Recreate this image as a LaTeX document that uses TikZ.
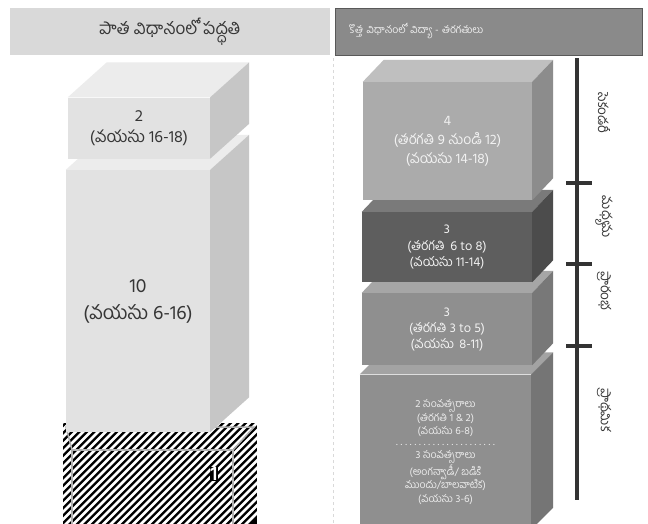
\documentclass[tikz,border=0pt]{standalone}
\usepackage{fontspec}
\setmainfont[Script=Telugu]{Hind Guntur}
\usetikzlibrary{calc}
\definecolor{lfront}{HTML}{E2E2E2}
\definecolor{ltop}{HTML}{ECECEC}
\definecolor{lside}{HTML}{C6C6C6}
\definecolor{ltext}{HTML}{363636}
\definecolor{hdrL}{HTML}{D9D9D9}
\definecolor{hdrR}{HTML}{8A8A8A}
\newcommand{\boxfaces}[5]{%
  \fill[#4] (#1.north west) -- ++(#2,-#3) -- ($(#1.north east)+(#2,-#3)$) -- (#1.north east) -- cycle;
  \fill[#5] (#1.north east) -- ++(#2,-#3) -- ($(#1.south east)+(#2,-#3)$) -- (#1.south east) -- cycle;}
\begin{document}
\begin{tikzpicture}[x=1pt,y=-1pt,
  frontbox/.style={inner sep=0pt, align=center, draw=none},
  leftbox/.style={frontbox, fill=lfront, text=ltext},
  rightbox/.style={frontbox, text=white!95!black},
  hdrbox/.style={inner sep=0pt, minimum height=47pt},
  stagelabel/.style={rotate=-90, text=ltext, font=\fontsize{13.5}{14}\selectfont},
  tick/.style={line width=3.5pt, draw=black!80}
]
\useasboundingbox (0,0) rectangle (648,523);
\fill[white] (0,0) rectangle (648,523);

% headers
\node[hdrbox, fill=hdrL, minimum width=320pt, text=ltext, font=\fontsize{17}{19}\selectfont] (hL) at (170,31.5) {పాత విధానంలో పద్ధతి};
\node[hdrbox, fill=hdrR, draw=black!65, line width=0.8pt, minimum width=307pt, text width=280pt, align=left, text=white!93!black, font=\fontsize{10.5}{12}\selectfont] (hR) at (489,31.5) {కొత్త విధానంలో విద్యా - తరగతులు};

% divider
\draw[black!15, dashed, line width=0.6pt] (333,58) coordinate (dv1) -- (333,523) coordinate (dv2);

% ---------- left column ----------
\fill[black] (63,423) rectangle (257,530);
\begin{scope}
  \clip (63,423) rectangle (257,530);
  \foreach \i in {0,...,48} {
    \draw[white, line width=2.6pt] (\i*7.5-120,530) -- ++(130,-130);
  }
\end{scope}
\draw[black!30, line width=1.5pt] (72,530) -- (72,450) -- (233,450) -- (233,530);
\draw[black!30, line width=1.5pt] (233,450) -- (254,427) -- (66,427) -- (72,450);
\node[text=white, fill=black, inner sep=0.6pt, font=\bfseries\fontsize{20}{20}\selectfont] (one) at (214,474) {1};

\node[leftbox, minimum width=144pt, minimum height=262pt, font=\fontsize{19.5}{27}\selectfont] (b10) at (138,301) {10\\(వయసు 6-16)};
\boxfaces{b10}{39}{35}{ltop}{lside}

\node[leftbox, minimum width=142pt, minimum height=61pt, font=\fontsize{16.5}{21}\selectfont] (b2) at (139,128) {2\\(వయసు 16-18)};
\boxfaces{b2}{39}{35}{ltop}{lside}

% ---------- right column ----------
\node[rightbox, fill=black!44, minimum width=171pt, minimum height=155pt, text=white!92!black, font=\fontsize{10.5}{13.8}\selectfont] (b1) at (445.5,452) {2 సంవత్సరాలు\\(తరగతి 1 \& 2)\\(వయసు 6-8)\\[-3pt]\makebox[105pt]{\dotfill}\\[-1pt]3 సంవత్సరాలు\\(అంగన్వాడీ/ బడికి\\ముందు/బాలవాటిక)\\(వయసు 3-6)};
\boxfaces{b1}{22}{22}{black!36}{black!54}

\node[rightbox, fill=black!44, minimum width=170pt, minimum height=72pt, font=\fontsize{13}{16}\selectfont] (b35) at (447,329) {3\\(తరగతి 3 to 5)\\(వయసు\, 8-11)};
\boxfaces{b35}{21}{22}{black!35}{black!53}

\node[rightbox, fill=black!63, minimum width=170pt, minimum height=70pt, font=\fontsize{13}{16.5}\selectfont] (b68) at (447,247) {3\\(తరగతి\, 6 to 8)\\(వయసు 11-14)};
\boxfaces{b68}{21}{22}{black!52}{black!70}

\node[rightbox, fill=black!33, minimum width=169pt, minimum height=118pt, font=\fontsize{14}{19}\selectfont] (b4) at (447.5,141) {4\\(తరగతి 9 నుండి 12)\\(వయసు 14-18)};
\boxfaces{b4}{21}{22}{black!25}{black!45}

% ---------- timeline ----------
\coordinate (tlA) at (577,58);
\coordinate (tlB) at (577,500);
\draw[tick] (tlA) -- (tlB);
\coordinate (k1a) at (566,183); \coordinate (k1b) at (592,183);
\coordinate (k2a) at (566,264); \coordinate (k2b) at (592,264);
\coordinate (k3a) at (566,346); \coordinate (k3b) at (592,346);
\draw[tick] (k1a) -- (k1b);
\draw[tick] (k2a) -- (k2b);
\draw[tick] (k3a) -- (k3b);
\node[stagelabel] (s1) at (604,113) {సెకండరీ};
\node[stagelabel] (s2) at (604,217) {మధ్యమ};
\node[stagelabel] (s3) at (604,291) {ప్రారంభ};
\node[stagelabel] (s4) at (604,410) {ప్రాథమిక};
\end{tikzpicture}
\end{document}
